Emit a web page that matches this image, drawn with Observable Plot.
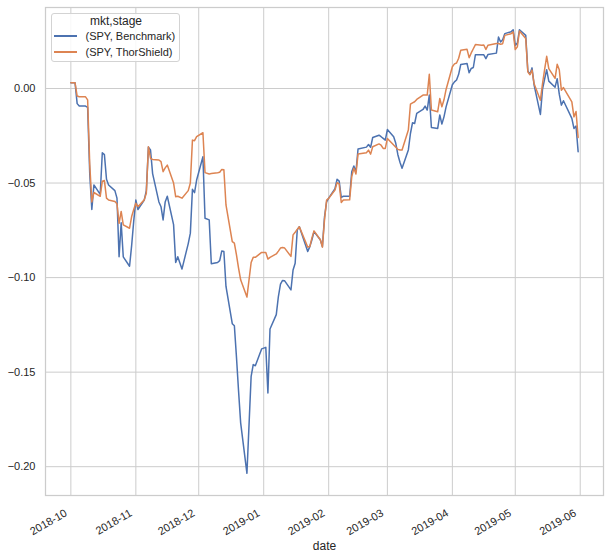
<!DOCTYPE html>
<html><head><meta charset="utf-8">
<script src="https://cdn.jsdelivr.net/npm/d3@7"></script>
<script src="https://cdn.jsdelivr.net/npm/@observablehq/plot@0.6"></script>
<style>
html,body{margin:0;padding:0;background:#fff;}
#wrap{position:relative;width:609px;height:556px;font-family:"Liberation Sans",Arial,sans-serif;color:#262626;}
#legend{position:absolute;left:50.5px;top:12.5px;width:129.5px;height:49.5px;border:1px solid #d3d3d3;border-radius:3px;background:rgba(255,255,255,0.85);box-sizing:border-box;}
#legend .ttl{position:absolute;left:38.5px;top:0.5px;font-size:12px;line-height:14px;white-space:nowrap;}
#legend .sw{position:absolute;left:2px;width:23px;height:1.6px;}
#legend .lb{position:absolute;left:34px;font-size:11px;line-height:14px;white-space:nowrap;}
</style></head><body><div id="wrap"></div>
<script>
const dates = ["2018-10-01","2018-10-02","2018-10-03","2018-10-04","2018-10-05","2018-10-08","2018-10-09","2018-10-10","2018-10-11","2018-10-12",
"2018-10-15","2018-10-16","2018-10-17","2018-10-18","2018-10-19","2018-10-22","2018-10-23","2018-10-24","2018-10-25","2018-10-26",
"2018-10-29","2018-10-30","2018-10-31","2018-11-01","2018-11-02","2018-11-05","2018-11-06","2018-11-07","2018-11-08","2018-11-09",
"2018-11-12","2018-11-13","2018-11-14","2018-11-15","2018-11-16","2018-11-19","2018-11-20","2018-11-21","2018-11-23","2018-11-26",
"2018-11-27","2018-11-28","2018-11-29","2018-11-30","2018-12-03","2018-12-04","2018-12-06","2018-12-07","2018-12-10","2018-12-11",
"2018-12-12","2018-12-13","2018-12-14","2018-12-17","2018-12-18","2018-12-19","2018-12-20","2018-12-21","2018-12-24","2018-12-26",
"2018-12-27","2018-12-28","2018-12-31","2019-01-02","2019-01-03","2019-01-04","2019-01-07","2019-01-08","2019-01-09","2019-01-10",
"2019-01-11","2019-01-14","2019-01-15","2019-01-16","2019-01-17","2019-01-18","2019-01-22","2019-01-23","2019-01-24","2019-01-25",
"2019-01-28","2019-01-29","2019-01-30","2019-01-31","2019-02-01","2019-02-04","2019-02-05","2019-02-06","2019-02-07","2019-02-08",
"2019-02-11","2019-02-12","2019-02-13","2019-02-14","2019-02-15","2019-02-19","2019-02-20","2019-02-21","2019-02-22","2019-02-25",
"2019-02-26","2019-02-27","2019-02-28","2019-03-01","2019-03-04","2019-03-05","2019-03-06","2019-03-07","2019-03-08","2019-03-11",
"2019-03-12","2019-03-13","2019-03-14","2019-03-15","2019-03-18","2019-03-19","2019-03-20","2019-03-21","2019-03-22","2019-03-25",
"2019-03-26","2019-03-27","2019-03-28","2019-03-29","2019-04-01","2019-04-02","2019-04-03","2019-04-04","2019-04-05","2019-04-08",
"2019-04-09","2019-04-10","2019-04-11","2019-04-12","2019-04-15","2019-04-16","2019-04-17","2019-04-18","2019-04-22","2019-04-23",
"2019-04-24","2019-04-25","2019-04-26","2019-04-29","2019-04-30","2019-05-01","2019-05-02","2019-05-03","2019-05-06","2019-05-07",
"2019-05-08","2019-05-09","2019-05-10","2019-05-13","2019-05-14","2019-05-15","2019-05-16","2019-05-17","2019-05-20","2019-05-21",
"2019-05-22","2019-05-23","2019-05-24","2019-05-28","2019-05-29","2019-05-30","2019-05-31"];

const benchmark = [0.003,0.003,0.003,-0.008,-0.0093,-0.0093,-0.010,-0.045,-0.064,-0.051,
-0.056,-0.034,-0.035,-0.048,-0.051,-0.054,-0.058,-0.089,-0.071,-0.089,
-0.094,-0.083,-0.070,-0.059,-0.064,-0.059,-0.054,-0.031,-0.0325,-0.045,
-0.060,-0.0625,-0.0695,-0.060,-0.057,-0.072,-0.092,-0.089,-0.0955,-0.082,
-0.0765,-0.0533,-0.0551,-0.0484,-0.0361,-0.0686,-0.0695,-0.0927,-0.092,-0.091,
-0.0859,-0.0862,-0.1047,-0.1244,-0.1255,-0.142,-0.160,-0.1768,-0.2035,-0.1522,
-0.146,-0.1466,-0.1377,-0.1369,-0.161,-0.1272,-0.1196,-0.110,-0.1035,-0.1015,
-0.1017,-0.1065,-0.096,-0.0924,-0.0748,-0.0731,-0.0862,-0.0836,-0.080,-0.0757,
-0.080,-0.0836,-0.068,-0.060,-0.058,-0.053,-0.048,-0.049,-0.0576,-0.057,
-0.057,-0.044,-0.041,-0.044,-0.032,-0.031,-0.0296,-0.0311,-0.0259,-0.0247,
-0.0255,-0.0264,-0.0273,-0.0217,-0.0255,-0.029,-0.035,-0.039,-0.0422,-0.0325,
-0.0238,-0.0181,-0.0185,-0.0132,-0.0111,-0.0093,-0.0114,-0.0035,-0.0206,-0.0211,
-0.014,-0.0188,-0.015,-0.0097,0.002,0.0035,0.0045,0.0075,0.0127,0.0132,
0.0083,0.0106,0.0111,0.0179,0.0178,0.0178,0.0158,0.018,0.0187,0.0272,
0.0246,0.0258,0.029,0.030,0.0311,0.0228,0.024,0.0311,0.0281,0.0093,
0.0075,0.0109,0.0018,-0.0137,-0.0005,0.005,0.0099,0.0039,0.0007,0.0052,
-0.003,-0.0088,-0.0065,-0.0158,-0.0211,-0.0199,-0.0334];

const thorshield = [0.003,0.003,0.003,-0.004,-0.0044,-0.0044,-0.006,-0.040,-0.060,-0.055,
-0.057,-0.049,-0.0487,-0.058,-0.059,-0.0598,-0.061,-0.0713,-0.065,-0.0721,
-0.0739,-0.0677,-0.064,-0.0607,-0.0625,-0.0589,-0.0554,-0.0308,-0.037,-0.0375,
-0.0378,-0.0387,-0.044,-0.042,-0.0405,-0.050,-0.0572,-0.057,-0.058,-0.054,
-0.050,-0.0273,-0.0276,-0.0255,-0.0234,-0.0445,-0.0452,-0.045,-0.0445,-0.0443,
-0.0428,-0.043,-0.0616,-0.081,-0.0818,-0.088,-0.095,-0.1012,-0.1103,-0.092,
-0.0893,-0.0893,-0.0867,-0.0867,-0.0902,-0.0893,-0.0875,-0.086,-0.0844,-0.0841,
-0.0844,-0.0888,-0.0774,-0.0760,-0.0745,-0.0731,-0.0839,-0.0836,-0.079,-0.0753,
-0.080,-0.0839,-0.0695,-0.059,-0.0581,-0.0537,-0.0498,-0.0505,-0.0603,-0.059,
-0.0589,-0.0466,-0.0422,-0.0452,-0.0347,-0.034,-0.0326,-0.0347,-0.0308,-0.0293,
-0.030,-0.0317,-0.0317,-0.0264,-0.0299,-0.031,-0.0322,-0.0325,-0.0325,-0.022,
-0.0083,-0.0076,-0.007,-0.0058,-0.0035,-0.0035,-0.0035,0.0075,-0.0114,-0.0123,
-0.0053,-0.0097,-0.006,-0.0005,0.0115,0.013,0.0135,0.016,0.0202,0.0207,
0.0163,0.0188,0.021,0.0232,0.0229,0.023,0.0206,0.0229,0.0238,0.0238,
0.0234,0.0237,0.0281,0.029,0.0299,0.0206,0.022,0.0304,0.0264,0.0088,
0.0073,0.0097,0.0025,-0.0062,0.0025,0.010,0.017,0.0105,0.0053,0.0128,
0.0099,-0.0009,0.0005,-0.0071,-0.015,-0.0122,-0.0259];

const seriesNames = ["(SPY, Benchmark)", "(SPY, ThorShield)"];
const seriesColors = ["#4c72b0", "#dd8452"];
const legendTitle = "mkt,stage";
const xLabel = "date";
const xTickLabels = ["2018-10","2018-11","2018-12","2019-01","2019-02","2019-03","2019-04","2019-05","2019-06"];
const yTicks = [-0.20, -0.15, -0.10, -0.05, 0.00];

const parseDay = d3.utcParse("%Y-%m-%d");
const parseMonth = d3.utcParse("%Y-%m");
const rows = [];
dates.forEach((d, i) => {
  rows.push({date: parseDay(d), value: benchmark[i], series: seriesNames[0]});
  rows.push({date: parseDay(d), value: thorshield[i], series: seriesNames[1]});
});
const xTicks = xTickLabels.map(parseMonth);
const [x0, x1] = d3.extent(rows, d => d.date);
const xm = (x1 - x0) * 0.05;
const [y0, y1] = d3.extent(rows, d => d.value);
const ym = (y1 - y0) * 0.05;

const chart = Plot.plot({
  width: 609, height: 556,
  marginLeft: 45, marginRight: 6, marginTop: 7, marginBottom: 61,
  style: {fontFamily: "Liberation Sans, Arial, sans-serif", fontSize: "11px", color: "#262626", background: "white", overflow: "visible"},
  x: {type: "utc", domain: [new Date(+x0 - xm), new Date(+x1 + xm)]},
  y: {domain: [y0 - ym, y1 + ym]},
  color: {domain: seriesNames, range: seriesColors},
  marks: [
    Plot.gridX(xTicks, {stroke: "#cccccc", strokeOpacity: 1, strokeWidth: 1}),
    Plot.gridY(yTicks, {stroke: "#cccccc", strokeOpacity: 1, strokeWidth: 1}),
    Plot.frame({stroke: "#cccccc", strokeWidth: 1.25}),
    Plot.axisY(yTicks, {tickSize: 0, tickPadding: 10, tickFormat: d3.format(".2f"), label: null, fontSize: 11}),
    Plot.axisX(xTicks, {tickSize: 0, tickPadding: 13, tickRotate: -30, dx: -7, textAnchor: "end", lineAnchor: "top", tickFormat: d3.utcFormat("%Y-%m"), label: null, fontSize: 11}),
    Plot.text([xLabel], {text: d => d, frameAnchor: "bottom", dy: 54, fontSize: 12, fill: "#262626"}),
    Plot.line(rows, {x: "date", y: "value", z: "series", stroke: "series", strokeWidth: 1.5})
  ]
});

const wrap = document.getElementById("wrap");
wrap.appendChild(chart);
const lg = document.createElement("div");
lg.id = "legend";
const t = document.createElement("div");
t.className = "ttl"; t.textContent = legendTitle; lg.appendChild(t);
const centers = [22.5, 38.7];
seriesNames.forEach((n, i) => {
  const sw = document.createElement("div");
  sw.className = "sw"; sw.style.background = seriesColors[i]; sw.style.top = (centers[i] - 0.8) + "px";
  lg.appendChild(sw);
  const lb = document.createElement("div");
  lb.className = "lb"; lb.textContent = n; lb.style.top = (centers[i] - 7) + "px";
  lg.appendChild(lb);
});
wrap.appendChild(lg);
</script></body></html>
